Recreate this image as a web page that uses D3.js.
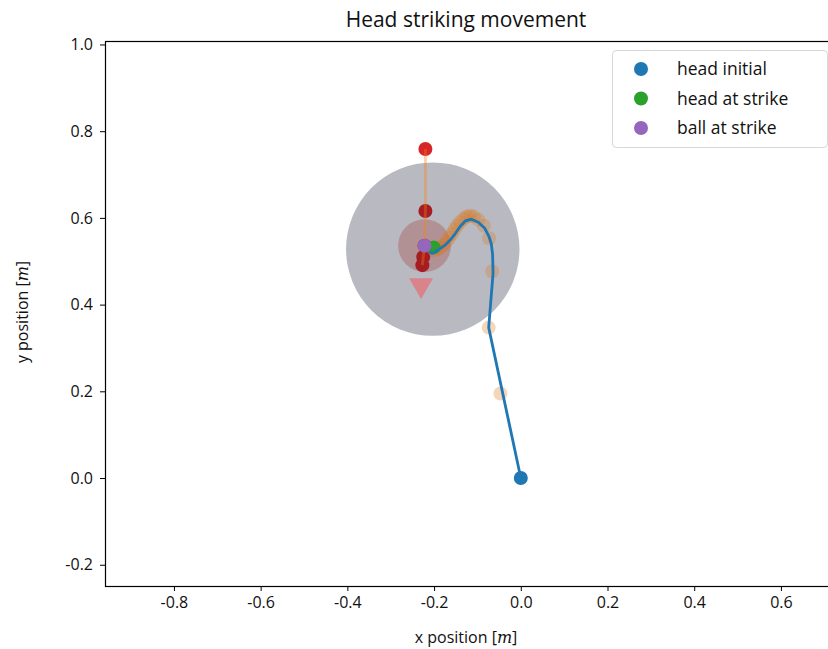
<!DOCTYPE html>
<html>
<head>
<meta charset="utf-8">
<script src="https://cdn.jsdelivr.net/npm/d3@7"></script>
<style>
  body { margin: 0; background: #fff; }
  svg text { font-family: "Open Sans", Lato, sans-serif; fill: #111; }
</style>
</head>
<body>
<svg width="828" height="649"></svg>
<script>
// head trajectory (blue line)
var headX = [0.000, -0.074, -0.064, -0.065, -0.068, -0.073, -0.083, -0.098, -0.114, -0.128, -0.140, -0.151, -0.163, -0.175, -0.190, -0.205, -0.211];
var headY = [0.000, 0.347, 0.472, 0.515, 0.540, 0.556, 0.576, 0.590, 0.597, 0.593, 0.580, 0.564, 0.549, 0.537, 0.526, 0.518, 0.522];

// sampled head positions (orange dots)
var sampleX = [-0.047, -0.074, -0.066, -0.073, -0.085, -0.098, -0.108, -0.117, -0.125, -0.132, -0.140, -0.147, -0.153, -0.159, -0.165, -0.172, -0.179, -0.186, -0.193, -0.200];
var sampleY = [0.195, 0.347, 0.477, 0.553, 0.582, 0.596, 0.603, 0.605, 0.603, 0.598, 0.590, 0.582, 0.573, 0.563, 0.554, 0.545, 0.537, 0.531, 0.527, 0.525];

// ball positions (red dots)
var ballX = [-0.220, -0.220, -0.222, -0.225, -0.227];
var ballY = [0.759, 0.616, 0.536, 0.510, 0.491];

var headInit = [0.0, 0.0];
var headStrike = [-0.201, 0.532];
var ballStrike = [-0.222, 0.536];
var reachCenter = [-0.203, 0.528], reachRadius = 0.2;
var ballRadius = 0.061;
var ballDir = [-0.230, 0.445];

var xTicks = [-0.8, -0.6, -0.4, -0.2, 0.0, 0.2, 0.4, 0.6];
var yTicks = [-0.2, 0.0, 0.2, 0.4, 0.6, 0.8, 1.0];
var legendLabels = ['head initial', 'head at strike', 'ball at strike'];
var legendColors = ['#1f77b4', '#2ca02c', '#9467bd'];

var svg = d3.select('svg');
var mLeft = 105, mRight = 836, mTop = 41, mBottom = 586;

var x = d3.scaleLinear().domain([-0.959, 0.727]).range([mLeft, mRight]);
var y = d3.scaleLinear().domain([-0.249, 1.008]).range([mBottom, mTop]);
var unit = x(1) - x(0);

var plot = svg.append('g');

plot.append('circle')
  .attr('cx', x(reachCenter[0])).attr('cy', y(reachCenter[1]))
  .attr('r', reachRadius * unit)
  .attr('fill', '#b9bac1');

plot.append('circle')
  .attr('cx', x(ballStrike[0])).attr('cy', y(ballStrike[1]))
  .attr('r', ballRadius * unit)
  .attr('fill', '#b29195');

// ball dots
plot.selectAll('circle.ball').data(d3.range(ballX.length)).enter()
  .append('circle').classed('ball', true)
  .attr('cx', function(i) { return x(ballX[i]); })
  .attr('cy', function(i) { return y(ballY[i]); })
  .attr('r', 7)
  .attr('fill', function(i) { return i == 0 ? '#d62728' : '#a31d22'; });

// ball path
var ballLine = d3.line()
  .x(function(i) { return x(ballX[i]); })
  .y(function(i) { return y(ballY[i]); });
plot.append('path')
  .attr('d', ballLine(d3.range(ballX.length)))
  .attr('fill', 'none')
  .attr('stroke', '#ff7f0e')
  .attr('stroke-opacity', 0.35)
  .attr('stroke-width', 3);

// direction marker
var tri = d3.symbol().type(d3.symbolTriangle).size(250);
plot.append('path')
  .attr('d', tri())
  .attr('transform', 'translate(' + x(ballDir[0]) + ',' + y(ballDir[1]) + ') rotate(180)')
  .attr('fill', '#d9848b');

// head samples
plot.selectAll('circle.sample').data(d3.range(sampleX.length)).enter()
  .append('circle').classed('sample', true)
  .attr('cx', function(i) { return x(sampleX[i]); })
  .attr('cy', function(i) { return y(sampleY[i]); })
  .attr('r', 7)
  .attr('fill', '#d9781e')
  .attr('fill-opacity', 0.3);

plot.append('circle')
  .attr('cx', x(headStrike[0])).attr('cy', y(headStrike[1]))
  .attr('r', 7).attr('fill', '#2ca02c');

var headLine = d3.line()
  .x(function(i) { return x(headX[i]); })
  .y(function(i) { return y(headY[i]); });
plot.append('path')
  .attr('d', headLine(d3.range(headX.length)))
  .attr('fill', 'none')
  .attr('stroke', '#1f77b4')
  .attr('stroke-width', 2.8)
  .attr('stroke-linejoin', 'round');

plot.append('circle')
  .attr('cx', x(headInit[0])).attr('cy', y(headInit[1]))
  .attr('r', 7).attr('fill', '#1f77b4');

plot.append('circle')
  .attr('cx', x(ballStrike[0])).attr('cy', y(ballStrike[1]))
  .attr('r', 7).attr('fill', '#9467bd');

// axes
var fmt = function(d) { return d.toFixed(1); };
var xAxis = svg.append('g').attr('transform', 'translate(0,' + mBottom + ')')
  .call(d3.axisBottom(x).tickValues(xTicks).tickFormat(fmt).tickSize(5).tickPadding(6));
var yAxis = svg.append('g').attr('transform', 'translate(' + mLeft + ',0)')
  .call(d3.axisLeft(y).tickValues(yTicks).tickFormat(fmt).tickSize(5).tickPadding(7));
[xAxis, yAxis].forEach(function(a) {
  a.select('.domain').remove();
  a.selectAll('text').attr('font-size', 16).attr('font-family', null);
  a.selectAll('line').attr('stroke', '#000').attr('stroke-width', 1);
});

svg.append('rect')
  .attr('x', mLeft + 0.5).attr('y', mTop + 0.5)
  .attr('width', mRight - mLeft).attr('height', mBottom - mTop)
  .attr('fill', 'none').attr('stroke', '#000').attr('stroke-width', 1.2);

svg.append('text')
  .attr('x', 466).attr('y', 27)
  .attr('text-anchor', 'middle').attr('font-size', 21)
  .text('Head striking movement');

function axisLabel(sel, name) {
  sel.append('tspan').text(name + ' [');
  sel.append('tspan').attr('font-family', 'DejaVu Serif').attr('font-style', 'italic').text('m');
  sel.append('tspan').text(']');
}
axisLabel(svg.append('text')
  .attr('x', 466).attr('y', 643)
  .attr('text-anchor', 'middle').attr('font-size', 16), 'x position');
axisLabel(svg.append('text')
  .attr('transform', 'translate(28,312) rotate(-90)')
  .attr('text-anchor', 'middle').attr('font-size', 16), 'y position');

// legend
var lg = svg.append('g');
lg.append('rect')
  .attr('x', 612.5).attr('y', 50.5).attr('width', 215).attr('height', 97).attr('rx', 4)
  .attr('fill', '#fff').attr('fill-opacity', 0.8)
  .attr('stroke', '#d6d6d6');
lg.selectAll('circle').data(legendLabels).enter().append('circle')
  .attr('cx', 641).attr('cy', function(d, i) { return 69 + i * 29.5; })
  .attr('r', 7).attr('fill', function(d, i) { return legendColors[i]; });
lg.selectAll('text').data(legendLabels).enter().append('text')
  .attr('x', 677).attr('y', function(d, i) { return 75 + i * 29.5; })
  .attr('font-size', 17.5)
  .text(function(d) { return d; });
</script>
</body>
</html>
